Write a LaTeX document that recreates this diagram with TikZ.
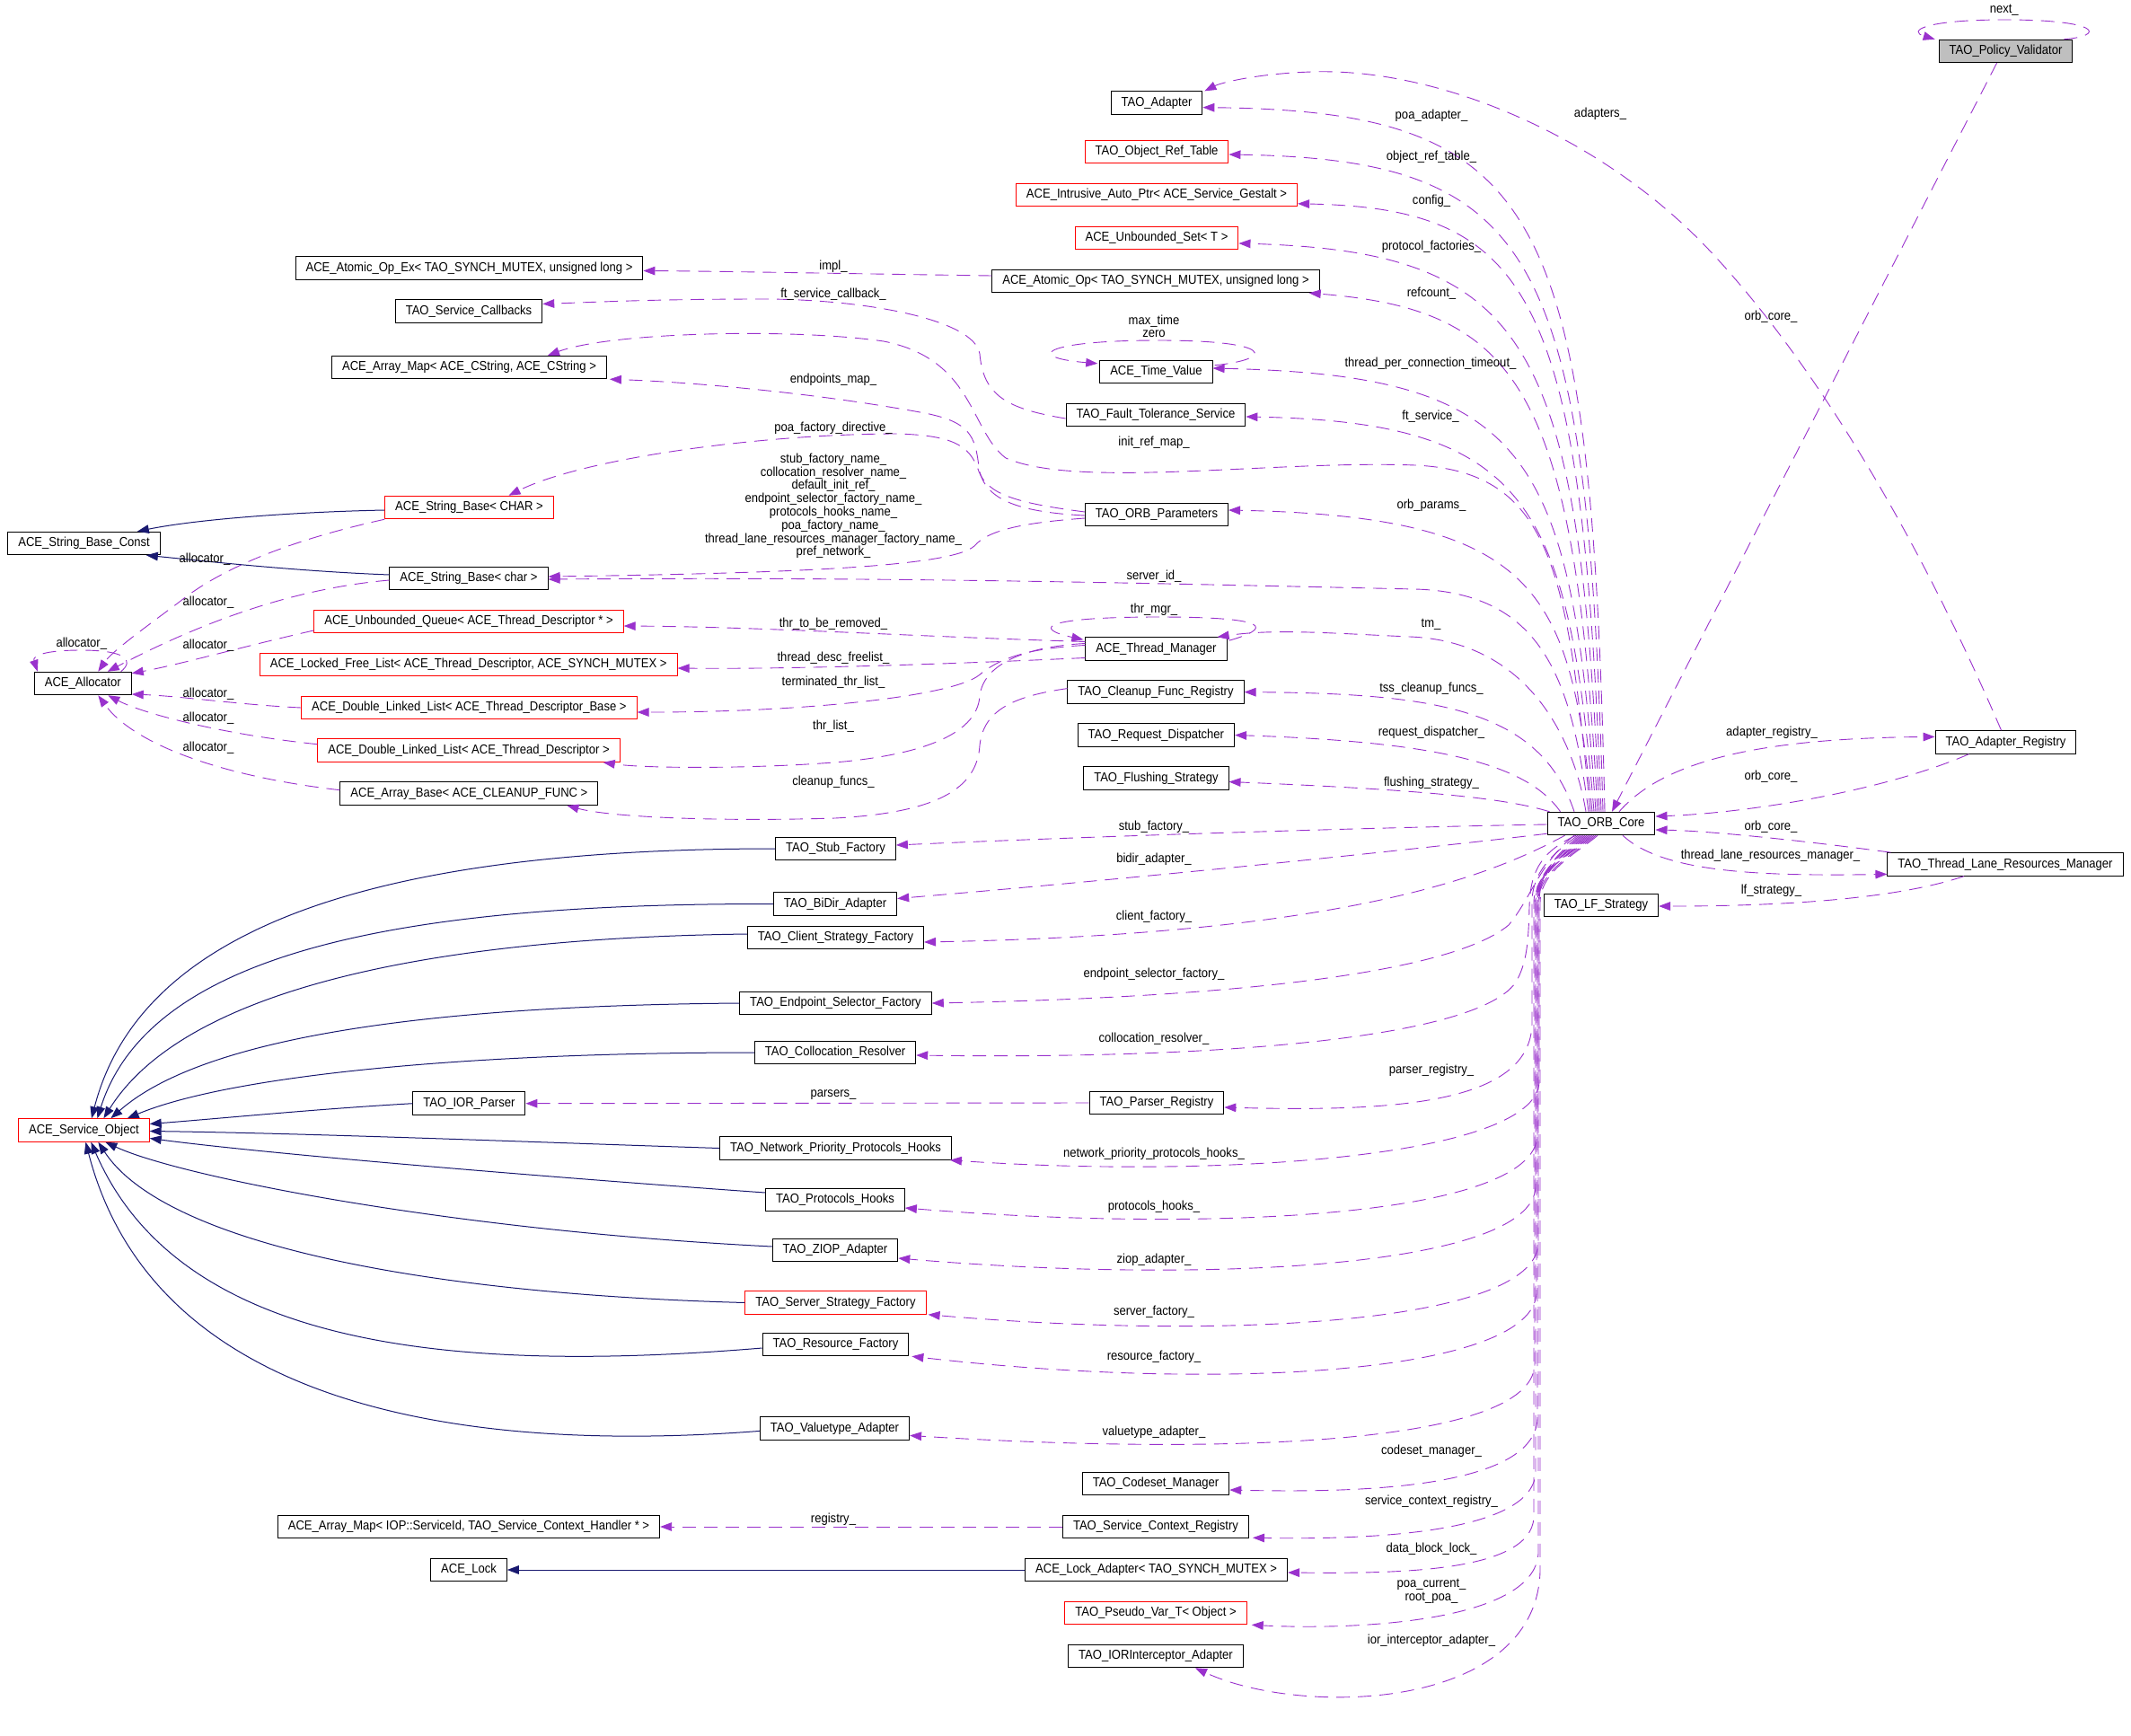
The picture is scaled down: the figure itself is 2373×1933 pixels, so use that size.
\documentclass[tikz,border=0pt]{standalone}
\usepackage{fontspec}
\newfontfamily\dfont{Liberation Sans}[FakeStretch=0.9]
\usetikzlibrary{arrows.meta,calc}
\definecolor{usec}{HTML}{9A32CD}
\definecolor{inhc}{HTML}{191970}
\definecolor{grayfill}{HTML}{BFBFBF}
\newcommand\dsz{\dfont\fontsize{7.25pt}{7.4pt}\selectfont}
\tikzset{
  box/.style={draw=black, line width=0.5pt, fill=white, inner xsep=5.75pt, inner ysep=0pt, minimum height=12.75pt, font=\dsz},
  redbox/.style={box, draw=red},
  graybox/.style={box, fill=grayfill},
  useedge/.style={draw=usec, line width=0.45pt, dash pattern=on 7.5pt off 4.5pt, -{Triangle[length=6.5pt,width=4.8pt,fill=usec]}},
  inhedge/.style={draw=inhc, line width=0.5pt, -{Triangle[length=6.5pt,width=4.8pt,fill=inhc]}},
  lbl/.style={font=\dsz, inner sep=0pt, align=center},
}
\begin{document}
\begin{tikzpicture}[x=0.5pt,y=-0.5pt]
\fill[white] (0,0) rectangle (2373,1933);
\useasboundingbox (0,0) rectangle (2373,1933);
% ---------- nodes ----------
\node[graybox] (pv) at (2233.5,57) {TAO\_Policy\_Validator};
\node[box] (adapter) at (1288,114.6) {TAO\_Adapter};
\node[redbox] (ort) at (1288,169) {TAO\_Object\_Ref\_Table};
\node[redbox] (iap) at (1288,216.8) {ACE\_Intrusive\_Auto\_Ptr< ACE\_Service\_Gestalt >};
\node[redbox] (ius) at (1288,265) {ACE\_Unbounded\_Set< T >};
\node[box] (aoe) at (522.5,298.5) {ACE\_Atomic\_Op\_Ex< TAO\_SYNCH\_MUTEX, unsigned long >};
\node[box] (ao) at (1287,313) {ACE\_Atomic\_Op< TAO\_SYNCH\_MUTEX, unsigned long >};
\node[box] (tsc) at (522,346.4) {TAO\_Service\_Callbacks};
\node[box] (am) at (522.5,409) {ACE\_Array\_Map< ACE\_CString, ACE\_CString >};
\node[box] (tv) at (1287.4,414) {ACE\_Time\_Value};
\node[box] (fts) at (1287,462) {TAO\_Fault\_Tolerance\_Service};
\node[redbox] (sbC) at (522.5,565) {ACE\_String\_Base< CHAR >};
\node[box] (op) at (1288,573) {TAO\_ORB\_Parameters};
\node[box] (sbconst) at (93.6,605) {ACE\_String\_Base\_Const};
\node[box] (sbc) at (522,644) {ACE\_String\_Base< char >};
\node[redbox] (uq) at (522,692) {ACE\_Unbounded\_Queue< ACE\_Thread\_Descriptor * >};
\node[box] (tm) at (1287.5,722.5) {ACE\_Thread\_Manager};
\node[redbox] (lfl) at (521.7,740) {ACE\_Locked\_Free\_List< ACE\_Thread\_Descriptor, ACE\_SYNCH\_MUTEX >};
\node[box] (alloc) at (92.3,761) {ACE\_Allocator};
\node[box] (cfr) at (1287,770.6) {TAO\_Cleanup\_Func\_Registry};
\node[redbox] (dllb) at (522.4,788) {ACE\_Double\_Linked\_List< ACE\_Thread\_Descriptor\_Base >};
\node[box] (rd) at (1287.4,818.5) {TAO\_Request\_Dispatcher};
\node[box] (areg) at (2233.5,826.4) {TAO\_Adapter\_Registry};
\node[redbox] (dlld) at (522,835.7) {ACE\_Double\_Linked\_List< ACE\_Thread\_Descriptor >};
\node[box] (fs) at (1287.4,866.5) {TAO\_Flushing\_Strategy};
\node[box] (ab) at (522.4,883.7) {ACE\_Array\_Base< ACE\_CLEANUP\_FUNC >};
\node[box] (orb) at (1783,917) {TAO\_ORB\_Core};
\node[box] (sf) at (930.5,945) {TAO\_Stub\_Factory};
\node[box] (tlrm) at (2233,962.4) {TAO\_Thread\_Lane\_Resources\_Manager};
\node[box] (bidir) at (930,1006.5) {TAO\_BiDir\_Adapter};
\node[box] (lf) at (1783,1008) {TAO\_LF\_Strategy};
\node[box] (csf) at (930.5,1044) {TAO\_Client\_Strategy\_Factory};
\node[box] (esf) at (930.5,1117) {TAO\_Endpoint\_Selector\_Factory};
\node[box] (cr) at (930,1172) {TAO\_Collocation\_Resolver};
\node[box] (iorp) at (522.4,1228.7) {TAO\_IOR\_Parser};
\node[box] (pr) at (1288,1228) {TAO\_Parser\_Registry};
\node[redbox] (so) at (93.4,1258.5) {ACE\_Service\_Object};
\node[box] (npph) at (930.5,1278.5) {TAO\_Network\_Priority\_Protocols\_Hooks};
\node[box] (ph) at (930,1336) {TAO\_Protocols\_Hooks};
\node[box] (ziop) at (930,1392) {TAO\_ZIOP\_Adapter};
\node[redbox] (ssf) at (930.5,1450.5) {TAO\_Server\_Strategy\_Factory};
\node[box] (rf) at (930.5,1497) {TAO\_Resource\_Factory};
\node[box] (vta) at (929.5,1590.4) {TAO\_Valuetype\_Adapter};
\node[box] (cm) at (1287,1652) {TAO\_Codeset\_Manager};
\node[box] (amiop) at (522,1700) {ACE\_Array\_Map< IOP::ServiceId, TAO\_Service\_Context\_Handler * >};
\node[box] (scr) at (1287,1700) {TAO\_Service\_Context\_Registry};
\node[box] (lock) at (522,1748) {ACE\_Lock};
\node[box] (la) at (1287.6,1748) {ACE\_Lock\_Adapter< TAO\_SYNCH\_MUTEX >};
\node[redbox] (pvt) at (1287,1796) {TAO\_Pseudo\_Var\_T< Object >};
\node[box] (iia) at (1287,1844) {TAO\_IORInterceptor\_Adapter};
% ---------- usage edges from ORB core, upward fan ----------
\draw[useedge] ($(orb.north)+(4,0)$) .. controls (1772,230) and (1718,124) .. ($(adapter.east)+(0,5)$);
\draw[useedge] ($(orb.north)+(2,0)$) .. controls (1768,280) and (1712,178) .. ($(ort.east)+(0,3)$);
\draw[useedge] ($(orb.north)+(0,0)$) .. controls (1762,330) and (1708,232) .. ($(iap.east)+(0,10)$);
\draw[useedge] ($(orb.north)+(-2,0)$) .. controls (1758,380) and (1704,280) .. ($(ius.east)+(0,6)$);
\draw[useedge] ($(orb.north)+(-4,0)$) .. controls (1754,430) and (1690,345) .. ($(ao.south east)+(-12,0)$);
\draw[useedge] ($(orb.north)+(-6,0)$) .. controls (1750,500) and (1700,418) .. ($(tv.east)+(0,-4)$);
\draw[useedge] ($(orb.north)+(-8,0)$) .. controls (1746,560) and (1702,470) .. ($(fts.east)+(0,2)$);
\draw[useedge] ($(orb.north)+(-10,0)$) .. controls (1748,660) and (1715,575) .. ($(op.east)+(0,-5)$);
\draw[useedge] ($(orb.north)+(-12,0)$) .. controls (1745,640) and (1730,525) .. (1576,518) .. controls (1420,512) and (1200,545) .. (1120,510) .. controls (1080,480) and (1085,400) .. (984,380) .. controls (880,365) and (680,370) .. ($(am.north east)+(-66,0)$);
\draw[useedge] ($(orb.north)+(-14,0)$) .. controls (1750,760) and (1720,660) .. (1576,656) .. controls (1300,650) and (1000,642) .. ($(sbc.east)+(0,1)$);
\draw[useedge] ($(orb.north)+(-17,0)$) .. controls (1752,820) and (1700,714) .. (1570,709) .. controls (1480,705) and (1420,700) .. ($(tm.north east)+(-11,0)$);
\draw[useedge] ($(orb.north)+(-30,0)$) .. controls (1715,790) and (1600,772) .. (cfr.east);
\draw[useedge] ($(orb.north west)+(15,0)$) .. controls (1700,850) and (1600,826) .. (rd.east);
\draw[useedge] ($(orb.north west)+(3,0)$) .. controls (1680,890) and (1600,880) .. ($(fs.east)+(0,4)$);
% ---------- usage edges from ORB core, left ----------
\draw[useedge] ($(orb.west)+(0,1)$) .. controls (1500,922) and (1200,932) .. ($(sf.east)+(0,-4)$);
\draw[useedge] ($(orb.south west)+(0,-2)$) .. controls (1600,943) and (1300,975) .. ($(bidir.east)+(0,-6)$);
\draw[useedge] ($(orb.south west)+(20,0)$) .. controls (1660,975) and (1500,1040) .. ($(csf.east)+(0,5)$);
\draw[useedge] ($(orb.south)+(-30,0)$) .. controls (1715,960) and (1705,1000) .. (1680,1030) .. controls (1620,1080) and (1400,1110) .. (esf.east);
\draw[useedge] ($(orb.south)+(-28,0)$) .. controls (1712,950) and (1704,975) .. (1703,1010) .. controls (1702,1050) and (1700,1070) .. (1690,1090) .. controls (1660,1150) and (1400,1180) .. ($(cr.east)+(0,3)$);
\draw[useedge] ($(orb.south)+(-26,0)$) .. controls (1730,950) and (1706,970) .. (1706,1005) -- (1706,1140) .. controls (1704,1230) and (1550,1238) .. ($(pr.east)+(0,5)$);
% ---------- usage edges from ORB core, lower bundle ----------
\draw[useedge] ($(orb.south)+(-24,0)$) .. controls (1735,950) and (1714,970) .. (1714,1005) -- (1714,1205) .. controls (1710,1290) and (1350,1312) .. ($(npph.south east)+(-2,0)$);
\draw[useedge] ($(orb.south)+(-22,0)$) .. controls (1738,950) and (1712,970) .. (1712,1005) -- (1712,1265) .. controls (1707,1355) and (1350,1373) .. ($(ph.east)+(0,9)$);
\draw[useedge] ($(orb.south)+(-20,0)$) .. controls (1740,950) and (1710,970) .. (1710,1005) -- (1710,1322) .. controls (1705,1412) and (1340,1430) .. ($(ziop.east)+(0,9)$);
\draw[useedge] ($(orb.south)+(-18,0)$) .. controls (1742,950) and (1713,970) .. (1713,1005) -- (1713,1385) .. controls (1708,1475) and (1360,1492) .. ($(ssf.south east)+(2,0)$);
\draw[useedge] ($(orb.south)+(-16,0)$) .. controls (1744,950) and (1711,970) .. (1711,1005) -- (1711,1440) .. controls (1706,1530) and (1360,1550) .. ($(rf.south east)+(3,0)$);
\draw[useedge] ($(orb.south)+(-14,0)$) .. controls (1746,950) and (1709,970) .. (1709,1005) -- (1709,1520) .. controls (1704,1610) and (1360,1620) .. ($(vta.east)+(0,8)$);
\draw[useedge] ($(orb.south)+(-12,0)$) .. controls (1748,950) and (1712,970) .. (1712,1005) -- (1712,1580) .. controls (1708,1660) and (1500,1662) .. ($(cm.east)+(0,7)$);
\draw[useedge] ($(orb.south)+(-10,0)$) .. controls (1750,950) and (1710,970) .. (1710,1005) -- (1710,1640) .. controls (1706,1712) and (1500,1714) .. ($(scr.south east)+(4,-1)$);
\draw[useedge] ($(orb.south)+(-8,0)$) .. controls (1752,950) and (1708,970) .. (1708,1005) -- (1708,1690) .. controls (1704,1752) and (1550,1752) .. ($(la.east)+(0,3)$);
\draw[useedge] ($(orb.south)+(-6,0)$) .. controls (1754,950) and (1713,970) .. (1713,1005) -- (1713,1730) .. controls (1708,1808) and (1500,1815) .. ($(pvt.south east)+(5,0)$);
\draw[useedge] ($(orb.south)+(-4,0)$) .. controls (1756,950) and (1715,970) .. (1715,1005) -- (1715,1750) .. controls (1710,1905) and (1450,1912) .. ($(iia.south)+(44,0)$);
% ---------- right side ----------
\draw[useedge] ($(orb.north)+(20,0)$) .. controls (1850,850) and (1950,822) .. ($(areg.west)+(0,-6)$);
\draw[useedge] ($(areg.south west)+(38,0)$) .. controls (2100,880) and (1950,905) .. ($(orb.east)+(0,-8)$);
\draw[useedge] ($(tlrm.north west)+(4,0)$) .. controls (2000,935) and (1900,925) .. ($(orb.east)+(0,7)$);
\draw[useedge] ($(orb.south)+(24,0)$) .. controls (1850,970) and (1950,976) .. ($(tlrm.west)+(0,11)$);
\draw[useedge] ($(tlrm.south)+(-46,0)$) .. controls (2100,1005) and (1950,1009) .. ($(lf.east)+(0,1)$);
\draw[useedge] ($(pv.south)+(-10,0)$) -- ($(orb.north)+(12,0)$);
\draw[useedge] ($(areg.north)+(-5,0)$) .. controls (2120,560) and (2000,380) .. (1900,275) .. controls (1780,150) and (1600,75) .. (1460,80) .. controls (1400,82) and (1360,92) .. ($(adapter.north east)+(2,0)$);
% self loops
\draw[useedge] ($(pv.north east)+(-10,0)$) .. controls (2345,40) and (2340,22) .. (2233,22) .. controls (2140,22) and (2125,35) .. ($(pv.north west)+(-4,0)$);
\draw[useedge] ($(tm.north east)+(2,4)$) .. controls (1415,700) and (1420,687) .. (1290,687) .. controls (1160,687) and (1150,700) .. ($(tm.north west)+(-2,3)$);
\draw[useedge] ($(tv.north east)+(2,6)$) .. controls (1420,400) and (1420,379) .. (1290,379) .. controls (1160,379) and (1140,398) .. ($(tv.north west)+(-2,4)$);
% ---------- middle column to left column ----------
\draw[useedge] ($(ao.west)+(0,-6)$) .. controls (900,304) and (800,302) .. ($(aoe.east)+(0,3)$);
\draw[useedge] ($(fts.west)+(0,4)$) .. controls (1120,455) and (1095,440) .. (1091,394) .. controls (1085,355) and (960,333) .. (850,333) .. controls (720,333) and (650,337) .. ($(tsc.east)+(0,-8)$);
\draw[useedge] ($(op.west)+(0,1)$) .. controls (1130,570) and (1095,555) .. (1090,520) .. controls (1086,485) and (1080,470) .. (1030,460) .. controls (900,436) and (760,425) .. ($(am.south east)+(3,0)$);
\draw[useedge] ($(op.west)+(0,-3)$) .. controls (1130,560) and (1100,550) .. (1090,525) .. controls (1080,495) and (1060,485) .. (1000,483) .. controls (850,483) and (650,510) .. ($(sbC.north)+(44,0)$);
\draw[useedge] ($(op.west)+(0,4)$) .. controls (1140,582) and (1100,590) .. (1085,608) .. controls (1060,630) and (900,638) .. ($(sbc.east)+(0,-2)$);
\draw[useedge] ($(tm.west)+(0,-8)$) .. controls (1000,708) and (850,698) .. ($(uq.east)+(0,5)$);
\draw[useedge] ($(tm.west)+(0,10)$) .. controls (1000,742) and (850,745) .. ($(lfl.east)+(0,4)$);
\draw[useedge] ($(tm.west)+(0,-4)$) .. controls (1140,722) and (1110,735) .. (1090,752) .. controls (1060,775) and (900,793) .. ($(dllb.east)+(0,5)$);
\draw[useedge] ($(tm.west)+(0,-6)$) .. controls (1140,720) and (1095,740) .. (1091,775) .. controls (1088,820) and (1020,840) .. (940,848) .. controls (850,856) and (720,856) .. ($(dlld.south east)+(-19,0)$);
\draw[useedge] ($(cfr.west)+(0,-4)$) .. controls (1130,775) and (1095,790) .. (1091,830) .. controls (1088,880) and (1040,905) .. (930,911) .. controls (800,915) and (680,910) .. ($(ab.south east)+(-35,0)$);
\draw[useedge] (scr.west) -- (amiop.east);
\draw[useedge] (pr.west) -- (iorp.east);
% ---------- allocator ----------
\draw[useedge] ($(alloc.north east)+(-12,0)$) .. controls (150,735) and (140,724) .. (90,724) .. controls (50,724) and (36,730) .. ($(alloc.north west)+(4,0)$);
\draw[useedge] (sbC.south west) .. controls (330,600) and (250,630) .. (200,670) .. controls (160,700) and (125,725) .. ($(alloc.north)+(17,0)$);
\draw[useedge] ($(sbc.west)+(0,2)$) .. controls (330,655) and (230,690) .. ($(alloc.north east)+(-27,0)$);
\draw[useedge] ($(uq.west)+(0,10)$) .. controls (270,720) and (200,740) .. ($(alloc.north east)+(0,2)$);
\draw[useedge] (dllb.west) .. controls (270,785) and (200,775) .. ($(alloc.east)+(0,12)$);
\draw[useedge] ($(dlld.west)+(0,-7)$) .. controls (250,818) and (160,795) .. ($(alloc.south)+(28,0)$);
\draw[useedge] ($(ab.west)+(0,-4)$) .. controls (250,865) and (150,830) .. ($(alloc.south)+(17,0)$);
% ---------- inheritance ----------
\draw[inhedge] ($(sbC.west)+(0,3)$) .. controls (330,570) and (220,578) .. ($(sbconst.north east)+(-26,0)$);
\draw[inhedge] ($(sbc.west)+(0,-4)$) .. controls (330,636) and (230,625) .. ($(sbconst.south east)+(-16,0)$);
\draw[inhedge] (la.west) -- (lock.east);
\draw[inhedge] (sf.west) .. controls (450,945) and (160,1020) .. ($(so.north)+(8.6,0)$);
\draw[inhedge] (bidir.west) .. controls (480,1006) and (170,1050) .. ($(so.north)+(15,0)$);
\draw[inhedge] ($(csf.west)+(0,-4)$) .. controls (450,1045) and (200,1110) .. ($(so.north)+(22,0)$);
\draw[inhedge] (esf.west) .. controls (450,1120) and (220,1160) .. ($(so.north)+(30,0)$);
\draw[inhedge] (cr.west) .. controls (500,1172) and (250,1200) .. ($(so.north east)+(-25,0)$);
\draw[inhedge] (iorp.west) .. controls (350,1235) and (250,1245) .. ($(so.east)+(0,-7)$);
\draw[inhedge] (npph.west) .. controls (600,1272) and (350,1262) .. ($(so.east)+(0,1)$);
\draw[inhedge] ($(ph.west)+(0,-8)$) .. controls (600,1310) and (300,1285) .. ($(so.east)+(0,9)$);
\draw[inhedge] ($(ziop.west)+(0,-4)$) .. controls (500,1370) and (200,1310) .. ($(so.south)+(24,0)$);
\draw[inhedge] (ssf.west) .. controls (450,1440) and (180,1380) .. ($(so.south)+(16,0)$);
\draw[inhedge] ($(rf.west)+(0,4)$) .. controls (500,1530) and (200,1500) .. ($(so.south)+(8,0)$);
\draw[inhedge] ($(vta.west)+(0,3)$) .. controls (500,1620) and (170,1560) .. ($(so.south)+(2,0)$);
% ---------- labels ----------
\node[lbl] (l1) at (2231.7,11) {next\_};
\node[lbl] (l2) at (1782,127) {adapters\_};
\node[lbl] (l3) at (1972,353) {orb\_core\_};
\node[lbl] (l4) at (1594,129) {poa\_adapter\_};
\node[lbl] (l5) at (1594,174.5) {object\_ref\_table\_};
\node[lbl] (l6) at (1594,224) {config\_};
\node[lbl] (l7) at (1594,275) {protocol\_factories\_};
\node[lbl] (l8) at (1594,327) {refcount\_};
\node[lbl] (l9) at (1593,405) {thread\_per\_connection\_timeout\_};
\node[lbl] (l10) at (1593,463.5) {ft\_service\_};
\node[lbl] (l11) at (1594,563) {orb\_params\_};
\node[lbl] (l12) at (928,297) {impl\_};
\node[lbl] (l13) at (928,327.5) {ft\_service\_callback\_};
\node[lbl] (l14) at (1285,363.3) {max\_time\\zero};
\node[lbl] (l15) at (928,423) {endpoints\_map\_};
\node[lbl] (l16) at (928,476.8) {poa\_factory\_directive\_};
\node[lbl] (l17) at (1285,492.5) {init\_ref\_map\_};
\node[lbl] (l18) at (928,563.4) {stub\_factory\_name\_\\collocation\_resolver\_name\_\\default\_init\_ref\_\\endpoint\_selector\_factory\_name\_\\protocols\_hooks\_name\_\\poa\_factory\_name\_\\thread\_lane\_resources\_manager\_factory\_name\_\\pref\_network\_};
\node[lbl] (l19) at (1285,642) {server\_id\_};
\node[lbl] (l20) at (1285,678.6) {thr\_mgr\_};
\node[lbl] (l21) at (928,695) {thr\_to\_be\_removed\_};
\node[lbl] (l22) at (1593.5,695.6) {tm\_};
\node[lbl] (l23) at (928,732.5) {thread\_desc\_freelist\_};
\node[lbl] (l24) at (928,759.4) {terminated\_thr\_list\_};
\node[lbl] (l25) at (1594,767) {tss\_cleanup\_funcs\_};
\node[lbl] (l26) at (928,808.3) {thr\_list\_};
\node[lbl] (l27) at (1594,816) {request\_dispatcher\_};
\node[lbl] (l28) at (1973,815.8) {adapter\_registry\_};
\node[lbl] (l29) at (1972,864.7) {orb\_core\_};
\node[lbl] (l30) at (928,870.5) {cleanup\_funcs\_};
\node[lbl] (l31) at (1594,872) {flushing\_strategy\_};
\node[lbl] (l32) at (1285,921) {stub\_factory\_};
\node[lbl] (l33) at (1972,921) {orb\_core\_};
\node[lbl] (l34) at (1971.5,953) {thread\_lane\_resources\_manager\_};
\node[lbl] (l35) at (1285,956.7) {bidir\_adapter\_};
\node[lbl] (l36) at (1972.5,992) {lf\_strategy\_};
\node[lbl] (l37) at (1285,1020.6) {client\_factory\_};
\node[lbl] (l38) at (1285,1084.4) {endpoint\_selector\_factory\_};
\node[lbl] (l39) at (1285,1156.6) {collocation\_resolver\_};
\node[lbl] (l40) at (1594,1192) {parser\_registry\_};
\node[lbl] (l41) at (928,1218.8) {parsers\_};
\node[lbl] (l42) at (1285,1285) {network\_priority\_protocols\_hooks\_};
\node[lbl] (l43) at (1285,1344) {protocols\_hooks\_};
\node[lbl] (l44) at (1285,1402.8) {ziop\_adapter\_};
\node[lbl] (l45) at (1285,1460.9) {server\_factory\_};
\node[lbl] (l46) at (1285,1511) {resource\_factory\_};
\node[lbl] (l47) at (1285,1594.8) {valuetype\_adapter\_};
\node[lbl] (l48) at (1594,1615.5) {codeset\_manager\_};
\node[lbl] (l49) at (1594,1672) {service\_context\_registry\_};
\node[lbl] (l50) at (928,1691.4) {registry\_};
\node[lbl] (l51) at (1594,1724.5) {data\_block\_lock\_};
\node[lbl] (l52) at (1594,1771.5) {poa\_current\_\\root\_poa\_};
\node[lbl] (l53) at (1594,1826.5) {ior\_interceptor\_adapter\_};
\node[lbl] (a1) at (228,622.7) {allocator\_};
\node[lbl] (a2) at (232,670.3) {allocator\_};
\node[lbl] (a3) at (90.8,716.7) {allocator\_};
\node[lbl] (a4) at (232,718.4) {allocator\_};
\node[lbl] (a5) at (232,772.7) {allocator\_};
\node[lbl] (a6) at (232,799.6) {allocator\_};
\node[lbl] (a7) at (232,832.8) {allocator\_};
\end{tikzpicture}
\end{document}
